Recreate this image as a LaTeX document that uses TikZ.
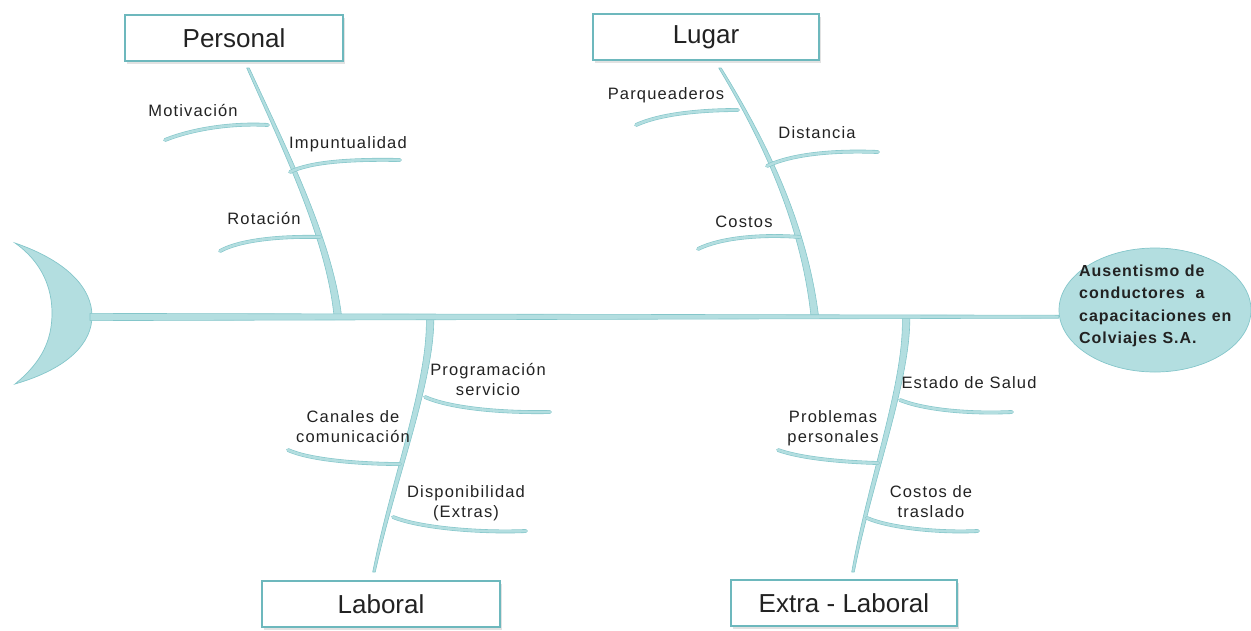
\documentclass[tikz,border=0pt]{standalone}
\usepackage{fontspec}
\setmainfont{Liberation Sans}
\usetikzlibrary{shapes.geometric,shadows,calc}
\definecolor{tealL}{HTML}{B3DEE0}
\definecolor{tealE}{HTML}{84C6CA}
\definecolor{boxE}{HTML}{6DB8BD}
\definecolor{txt}{HTML}{222222}
\tikzset{
  bonefill/.style={fill=tealL, draw=tealE, line width=0.6pt, line join=round},
  twig/.style={draw=tealE, line width=0.6pt, double=tealL, double distance=2.6pt, line cap=round},
  catbox/.style={draw=boxE, line width=2.2pt, fill=white, minimum height=46pt, inner sep=0pt,
    text=txt, font=\fontsize{26}{30}\selectfont,
    drop shadow={shadow xshift=2pt, shadow yshift=-2.5pt, fill=gray!45}},
  lbl/.style={align=center, text=txt, inner sep=0pt,
    font=\fontsize{16.5}{20}\selectfont\addfontfeatures{LetterSpace=7}},
}
% tapered bone: top, control 1, control 2, base
\newcommand{\tbone}[4]{%
  \filldraw[bonefill]
    ($(#1)+(-1.3,0)$) .. controls ($(#2)+(-2.2,0)$) and ($(#3)+(-3,0)$) .. ($(#4)+(-3.8,0)$)
    -- ($(#4)+(3.8,0)$) .. controls ($(#3)+(3,0)$) and ($(#2)+(2.2,0)$) .. ($(#1)+(1.3,0)$) -- cycle;}
\begin{document}
\begin{tikzpicture}[x=1pt,y=-1pt]
\useasboundingbox (0,0) rectangle (1251,630);

% tail (crescent)
\draw[fill=tealL, draw=tealE, line width=0.7pt]
  (15,243) .. controls (70,262) and (92,290) .. (92,316)
  .. controls (92,342) and (70,368) .. (15,384)
  .. controls (42,362) and (52,340) .. (52,313)
  .. controls (52,288) and (42,262) .. cycle;
\coordinate (tail) at (90,317);

% head
\node[ellipse, draw=tealE, fill=tealL, line width=0.7pt, minimum width=192pt, minimum height=124pt, inner sep=0pt] (head) at (1155,310) {};
\node[anchor=west, align=left, text=txt, inner sep=0pt,
  font=\bfseries\fontsize{16}{22.5}\selectfont\addfontfeatures{LetterSpace=6}] (headtext) at (1079,306)
  {Ausentismo de\\conductores~ a\\capacitaciones en\\Colviajes S.A.};

% category boxes
\node[catbox, minimum width=218pt] (personal) at (234,38) {Personal};
\node[catbox, minimum width=226pt] (lugar) at (706,37) {Lugar};
\node[catbox, minimum width=238pt] (laboral) at (381,604) {Laboral};
\node[catbox, minimum width=226pt] (extra) at (844,603) {Extra - Laboral};

% bone ends and control points
\coordinate (pTop) at (248,68);  \coordinate (pSp) at (338,318);
\coordinate (pc1) at (285,150);  \coordinate (pc2) at (330,240);
\coordinate (gTop) at (720,68);  \coordinate (gSp) at (815,318);
\coordinate (gc1) at (770,150);  \coordinate (gc2) at (805,230);
\coordinate (lSp) at (430,316);  \coordinate (lBot) at (374,572);
\coordinate (lc1) at (432,380);  \coordinate (lc2) at (393,480);
\coordinate (eSp) at (906,316);  \coordinate (eBot) at (853,572);
\coordinate (ec1) at (908,380);  \coordinate (ec2) at (870,480);

\tbone{pTop}{pc1}{pc2}{pSp}
\tbone{gTop}{gc1}{gc2}{gSp}
\tbone{lBot}{lc2}{lc1}{lSp}
\tbone{eBot}{ec2}{ec1}{eSp}

% spine (tapered, from tail to head)
\filldraw[bonefill] ($(tail)+(0,-3.6)$) -- ($(tail -| head.west)+(0,-1.8)$)
  -- ($(tail -| head.west)+(0,1.2)$) -- ($(tail)+(0,3.6)$) -- cycle;

% twig end points
\coordinate (mot0) at (268,125); \coordinate (mot1) at (165,140);
\coordinate (imp0) at (290,172); \coordinate (imp1) at (400,160);
\coordinate (rot0) at (320,237); \coordinate (rot1) at (220,251);
\coordinate (par0) at (738,110); \coordinate (par1) at (636,125);
\coordinate (dis0) at (767,166); \coordinate (dis1) at (878,152);
\coordinate (cos0) at (800,237); \coordinate (cos1) at (698,249);
\coordinate (pro0) at (425,397); \coordinate (pro1) at (550,412);
\coordinate (can0) at (400,464); \coordinate (can1) at (288,450);
\coordinate (dsp0) at (393,517); \coordinate (dsp1) at (526,531);
\coordinate (est0) at (900,400); \coordinate (est1) at (1012,412);
\coordinate (prb0) at (878,463); \coordinate (prb1) at (778,450);
\coordinate (ctr0) at (867,518); \coordinate (ctr1) at (978,531);

\draw[twig] (mot0) .. controls (235,123) and (195,128) .. (mot1);
\draw[twig] (imp0) .. controls (310,162) and (350,159) .. (imp1);
\draw[twig] (rot0) .. controls (280,236) and (240,240) .. (rot1);
\draw[twig] (par0) .. controls (700,110) and (660,114) .. (par1);
\draw[twig] (dis0) .. controls (790,155) and (830,150) .. (dis1);
\draw[twig] (cos0) .. controls (760,234) and (720,238) .. (cos1);
\draw[twig] (pro0) .. controls (450,408) and (500,413) .. (pro1);
\draw[twig] (can0) .. controls (360,464) and (310,460) .. (can1);
\draw[twig] (dsp0) .. controls (420,528) and (480,533) .. (dsp1);
\draw[twig] (est0) .. controls (925,410) and (970,414) .. (est1);
\draw[twig] (prb0) .. controls (840,462) and (800,458) .. (prb1);
\draw[twig] (ctr0) .. controls (890,528) and (940,533) .. (ctr1);

% labels
\node[lbl] (tMot) at (193,111) {Motivación};
\node[lbl] (tImp) at (348,144) {Impuntualidad};
\node[lbl] (tRot) at (264,219) {Rotación};
\node[lbl] (tPar) at (666,95) {Parqueaderos};
\node[lbl] (tDis) at (817,133) {Distancia};
\node[lbl] (tCos) at (744,222) {Costos};
\node[lbl] (tPro) at (488,379) {Programación\\servicio};
\node[lbl] (tCan) at (353,427) {Canales de\\comunicación};
\node[lbl] (tDsp) at (466,503) {Disponibilidad\\(Extras)};
\node[lbl] (tEst) at (969,383) {Estado de Salud};
\node[lbl] (tPrb) at (833,428) {Problemas\\personales};
\node[lbl] (tCtr) at (931,502) {Costos de\\traslado};
\end{tikzpicture}
\end{document}
